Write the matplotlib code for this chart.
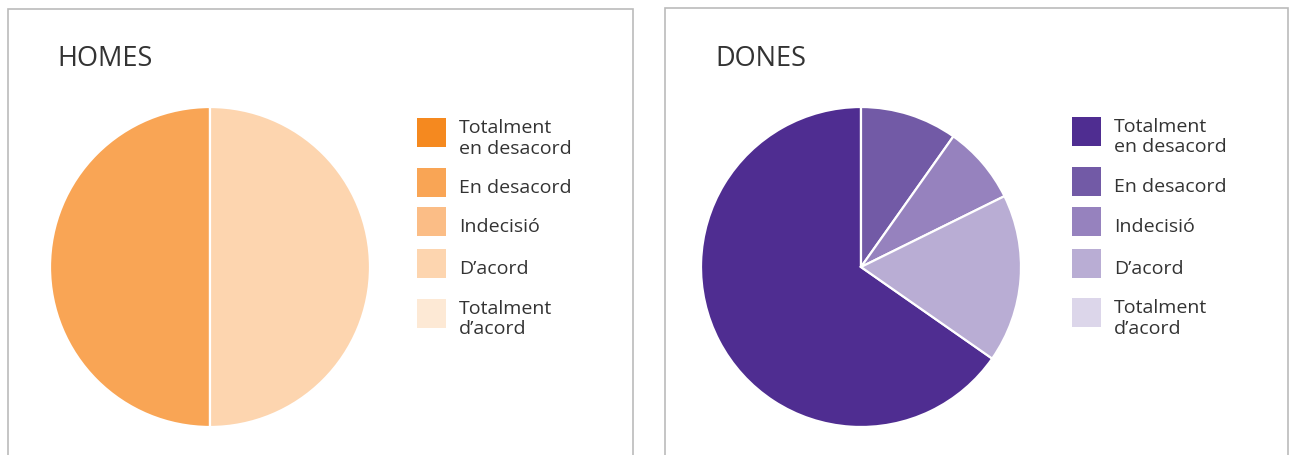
"""
Two pies: HOMES / DONES, level of agreement (Catalan labels).
"""
import matplotlib.pyplot as plt
from matplotlib.patches import Rectangle

CATEGORIES = [
    "Totalment\nen desacord",
    "En desacord",
    "Indecisió",
    "D’acord",
    "Totalment\nd’acord",
]
HOMES = [0, 50, 0, 50, 0]
DONES = [65.3, 9.8, 7.9, 17.0, 0]

ORANGES = ["#F5891F", "#F9A555", "#FBBD86", "#FDD5AF", "#FDE9D5"]
PURPLES = ["#4F2D91", "#725AA6", "#9682BE", "#B9ADD4", "#DCD6EA"]

W, H = 1290, 456
TXT = "#333333"
plt.rcParams["font.family"] = ["Open Sans", "DejaVu Sans"]


def fx(px):
    return px / W


def fy(py):
    return 1 - py / H


def panel(fig, x0, x1, y0, title, values, colors, pie_cx, leg_x, leg_tops):
    # grey frame (bottom edge is cut off in the original)
    fig.add_artist(Rectangle((fx(x0), fy(H + 20)), fx(x1 - x0), (H + 20 - y0) / H,
                             transform=fig.transFigure, fill=False,
                             edgecolor="#BBBBBB", lw=1.2))
    fig.text(fx(x0 + 50), fy(66), title, fontsize=19.5, color=TXT, va="baseline")

    r = 160
    ax = fig.add_axes([fx(pie_cx - r), fy(268 + r), fx(2 * r), 2 * r / H])
    vals = [v for v in values if v > 0]
    cols = [c for v, c in zip(values, colors) if v > 0]
    start = 90 + 360 * vals[0] / sum(vals)
    ax.pie(vals, colors=cols, startangle=start, counterclock=False,
           wedgeprops=dict(edgecolor="white", linewidth=1.6))
    ax.set_xlim(-1, 1)
    ax.set_ylim(-1, 1)

    for label, col, top in zip(CATEGORIES, colors, leg_tops):
        fig.add_artist(Rectangle((fx(leg_x), fy(top + 29)), fx(29), 29 / H,
                                 transform=fig.transFigure, color=col, lw=0))
        n = label.count("\n") + 1
        first = top + 14.5 + 2.5 - (14 + 21 * (n - 1)) / 2 + 14
        last = first + 21 * (n - 1)
        fig.text(fx(leg_x + 42), fy(last), label, fontsize=14, color=TXT,
                 va="baseline", linespacing=1.17)


def main():
    fig = plt.figure(figsize=(W / 100, H / 100), dpi=100)
    panel(fig, 7.5, 633, 10, "HOMES", HOMES, ORANGES, 210, 417,
          [119, 169, 208, 250, 300])
    panel(fig, 665, 1288, 9, "DONES", DONES, PURPLES, 861, 1072,
          [118, 168, 208, 250, 299])
    fig.savefig("out.png", dpi=100)
    plt.close(fig)


if __name__ == "__main__":
    main()
